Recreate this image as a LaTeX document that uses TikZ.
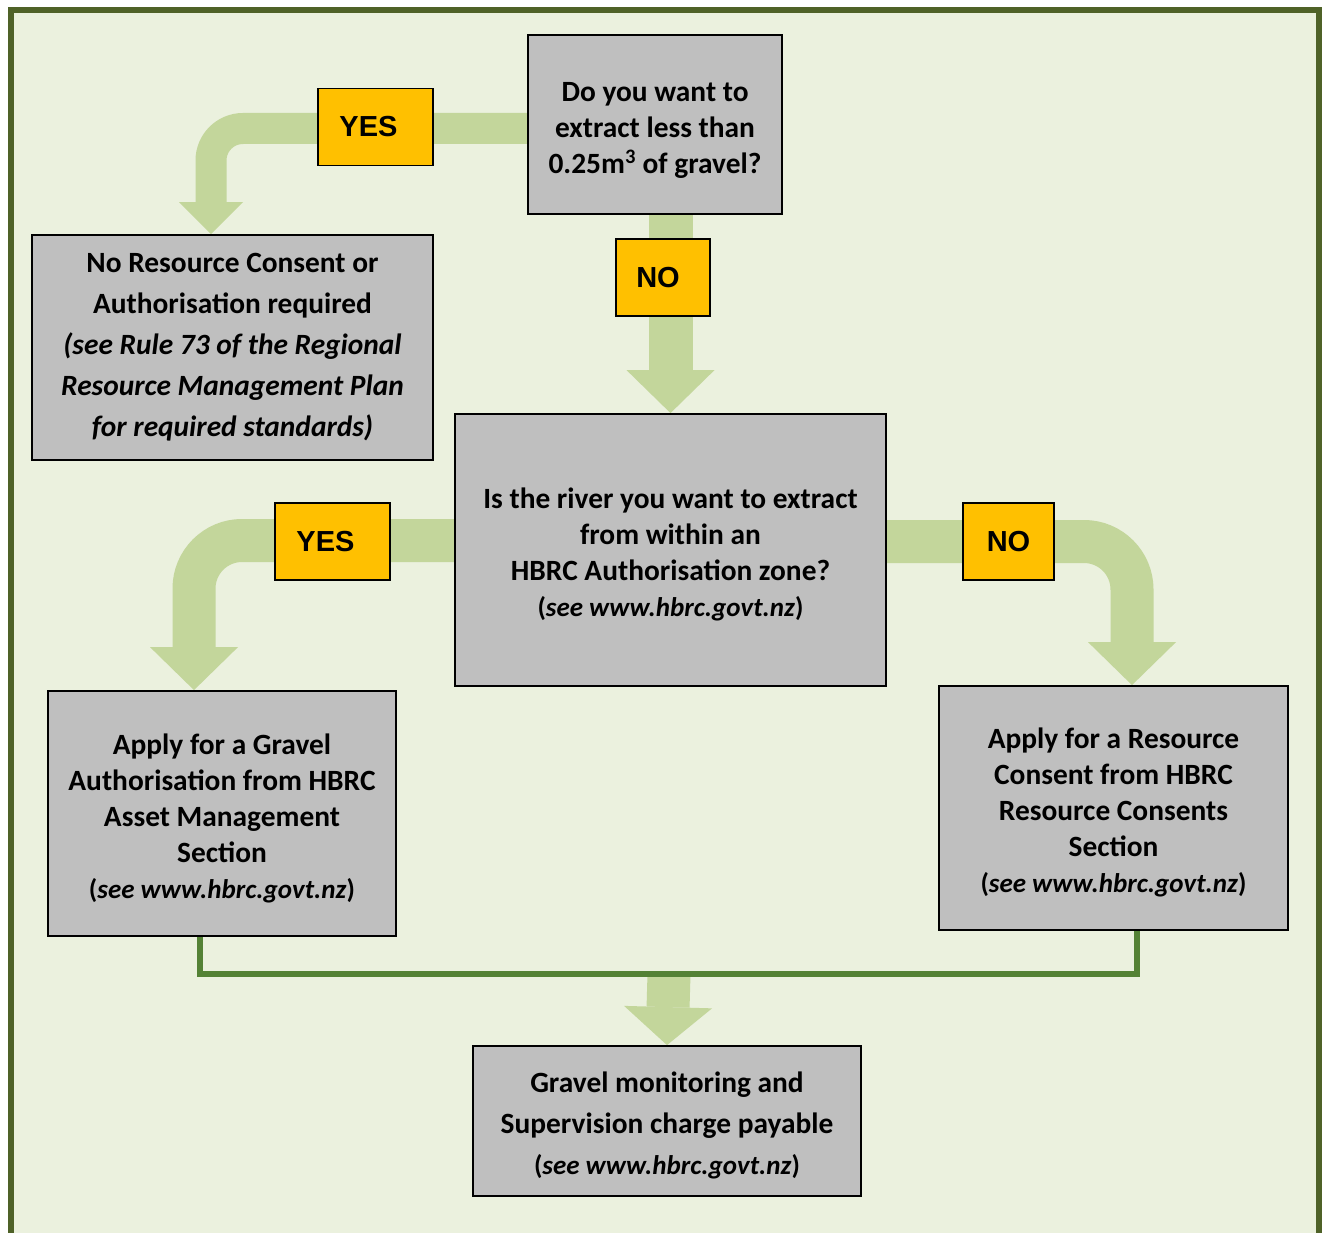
\documentclass[tikz,border=0pt]{standalone}
\usepackage{fontspec}
\setmainfont{Carlito}
\newfontfamily\tagfont{Liberation Sans}
\usetikzlibrary{arrows.meta,backgrounds}

\definecolor{framegreen}{HTML}{4F6228}
\definecolor{paper}{HTML}{EBF1DE}
\definecolor{boxgray}{HTML}{BFBFBF}
\definecolor{flowgreen}{HTML}{C3D69B}
\definecolor{linkgreen}{HTML}{548235}
\definecolor{tagyellow}{HTML}{FFC000}

\newcommand{\hbrclink}{{\fontsize{27}{36}\selectfont(\textit{see www.hbrc.govt.nz})}}
\newcommand{\lift}{\rule{0pt}{30pt}}

\begin{document}
\begin{tikzpicture}[x=1pt,y=-1pt,
    box/.style={draw=black, line width=1.8pt, fill=boxgray, align=center, inner sep=0pt,
        font=\fontsize{29.4}{36}\selectfont\bfseries},
    tagbox/.style={draw=black, line width=1.5pt, fill=tagyellow, inner sep=0pt,
        minimum height=77pt, font=\tagfont\fontsize{29}{34}\selectfont\bfseries},
    flow/.style={draw=flowgreen, line width=#1}]
    \useasboundingbox (0,0) rectangle (1328,1233);
    \begin{pgfonlayer}{background}
        \draw[framegreen, line width=6pt, fill=paper] (11,10) rectangle (1319,1270);
    \end{pgfonlayer}

    % question boxes
    \node[box, minimum width=254pt, minimum height=179pt] (ask) at (655,124.5)
        {\lift Do you want to\\extract less than\\0.25m\textsuperscript{3} of gravel?};
    \node[box, minimum width=401pt, minimum height=225pt, font=\fontsize{29.4}{41}\selectfont\bfseries] (free) at (232.5,347.5)
        {No Resource Consent or\\Authorisation required\\\textit{(see Rule 73 of the Regional}\\\textit{Resource Management Plan}\\\textit{for required standards)}};
    \node[box, minimum width=431pt, minimum height=272pt] (zone) at (670.5,550)
        {\lift Is the river you want to extract\\from within an\\HBRC Authorisation zone?\\\hbrclink};
    \node[box, minimum width=348pt, minimum height=245pt] (gravel) at (222,813.5)
        {\lift Apply for a Gravel\\Authorisation from HBRC\\Asset Management\\Section\\\hbrclink};
    \node[box, minimum width=349pt, minimum height=244pt] (consent) at (1113.5,808)
        {\lift Apply for a Resource\\Consent from HBRC\\Resource Consents\\Section\\\hbrclink};
    \node[box, minimum width=388pt, minimum height=150pt, font=\fontsize{29.4}{41}\selectfont\bfseries] (charge) at (667,1121)
        {\lift Gravel monitoring and\\Supervision charge payable\\\hbrclink};

    \coordinate (merge) at (669,974);

    \begin{pgfonlayer}{background}
        \draw[flow=31pt, rounded corners=32pt, -{Triangle[length=32pt,width=64pt,line width=0pt]}]
            ([yshift=-4pt]ask.west) -| ([xshift=-21.5pt]free.north);
        \draw[flow=44pt, -{Triangle[length=43pt,width=88pt,line width=0pt]}]
            (zone.north |- ask.south) -- (zone.north);
        \draw[flow=43pt, rounded corners=48pt, -{Triangle[length=43pt,width=88pt,line width=0pt]}]
            ([yshift=9.5pt]zone.west) -| ([xshift=-28pt]gravel.north);
        \draw[flow=43pt, rounded corners=48pt, -{Triangle[length=43pt,width=88pt,line width=0pt]}]
            ([yshift=8.5pt]zone.east) -| ([xshift=18.5pt]consent.north);
        \draw[flow=43pt, -{Triangle[length=38pt,width=88pt,line width=0pt]}] (merge) -- (charge.north);
        \draw[linkgreen, line width=6pt] ([xshift=-22pt]gravel.south) |- (merge) -| ([xshift=23.5pt]consent.south);
    \end{pgfonlayer}

    % answer tags
    \node[tagbox, minimum width=115pt] (yes1) at (375.5,127) {YES\hspace*{14pt}};
    \node[tagbox, minimum width=94pt] (no1) at (663,277.5) {NO\hspace*{10pt}};
    \node[tagbox, minimum width=115pt] (yes2) at (332.5,541.5) {YES\hspace*{14pt}};
    \node[tagbox, minimum width=91pt] (no2) at (1008.5,541.5) {NO};
\end{tikzpicture}
\end{document}
